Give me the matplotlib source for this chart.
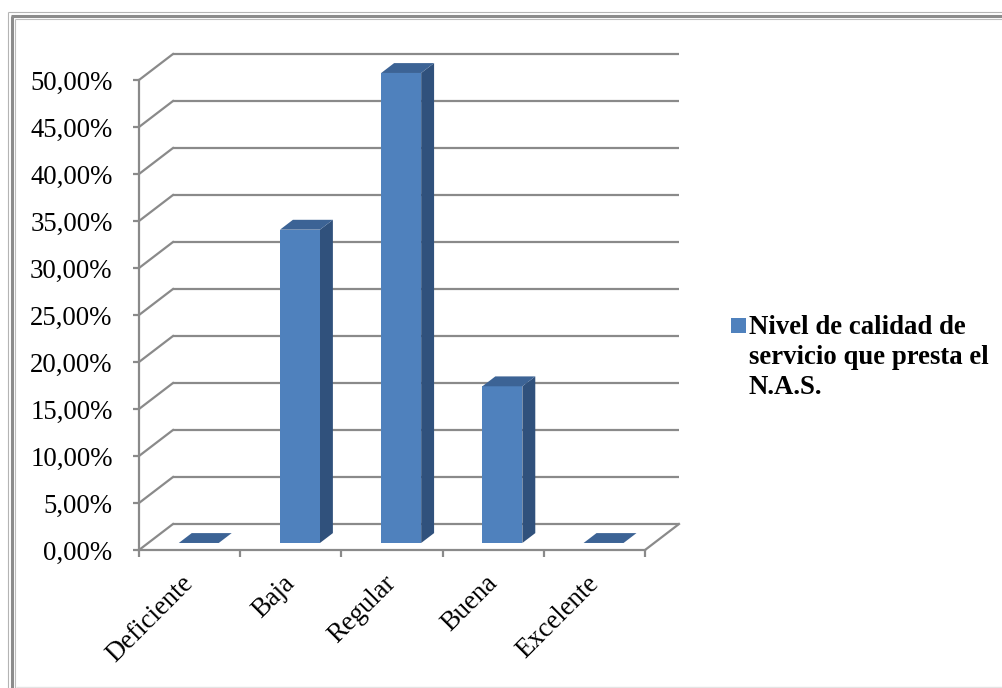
import matplotlib
matplotlib.use("Agg")
import matplotlib.pyplot as plt
from matplotlib.patches import Polygon, Rectangle
from matplotlib.lines import Line2D
from matplotlib.transforms import ScaledTranslation
import numpy as np

# ---------------- data ----------------
categories = ["Deficiente", "Baja", "Regular", "Buena", "Excelente"]
values = [0.0, 33.33, 50.0, 16.67, 0.0]          # percent
series_name = "Nivel de calidad de\nservicio que presta el\nN.A.S."
y_ticks = [0, 5, 10, 15, 20, 25, 30, 35, 40, 45, 50]
y_tick_labels = ["0,00%", "5,00%", "10,00%", "15,00%", "20,00%", "25,00%",
                 "30,00%", "35,00%", "40,00%", "45,00%", "50,00%"]

# ---------------- style ----------------
W, H = 1003, 688
FRONT = "#4F81BD"
SIDE = "#30517C"
TOP = "#3C6395"
GRID = "#8A8A8A"
FONT = "Liberation Serif"
FS = 19.3

fig = plt.figure(figsize=(W / 100, H / 100), dpi=100)
fig.patch.set_facecolor("white")

# front plane of the 3D plot area (pixels): x 139..645, y 80..550
ax = fig.add_axes([139 / W, 1 - 550 / H, (645 - 139) / W, 470 / H])
ax.set_xlim(-0.5, len(categories) - 0.5)
ax.set_ylim(0, 50)
ax.patch.set_visible(False)

# depth vector (34 px right, 26 px up) converted to data units
p0 = ax.transData.transform((0, 0))
dxd, dyd = ax.transData.inverted().transform(p0 + np.array([34.0, 26.0]))
x0, x1 = ax.get_xlim()

# back wall gridlines + left wall diagonals
for yv in y_ticks:
    ax.add_line(Line2D([x0 + dxd, x1 + dxd], [yv + dyd, yv + dyd], color=GRID,
                       lw=1.6, clip_on=False, zorder=1, solid_capstyle="butt"))
    ax.add_line(Line2D([x0, x0 + dxd], [yv, yv + dyd], color=GRID,
                       lw=1.6, clip_on=False, zorder=1))
# floor right edge
ax.add_line(Line2D([x1, x1 + dxd], [0, dyd], color=GRID, lw=1.6,
                   clip_on=False, zorder=1))

# ---------------- bars ----------------
d1, d2 = 0.27, 0.65
BW = 0.395
xs = np.arange(len(categories))
for xi, v in zip(xs, values):
    xl, xr = xi - BW / 2, xi + BW / 2
    if v > 0:
        side = Polygon([(xr + d1 * dxd, d1 * dyd), (xr + d2 * dxd, d2 * dyd),
                        (xr + d2 * dxd, d2 * dyd + v), (xr + d1 * dxd, d1 * dyd + v)],
                       closed=True, facecolor=SIDE, edgecolor="none",
                       clip_on=False, zorder=3)
        ax.add_patch(side)
    top = Polygon([(xl + d1 * dxd, d1 * dyd + v), (xr + d1 * dxd, d1 * dyd + v),
                   (xr + d2 * dxd, d2 * dyd + v), (xl + d2 * dxd, d2 * dyd + v)],
                  closed=True, facecolor=TOP, edgecolor="none",
                  clip_on=False, zorder=4)
    ax.add_patch(top)
ax.bar(xs + d1 * dxd, values, width=BW, bottom=d1 * dyd, color=FRONT,
       edgecolor="none", zorder=3, clip_on=False)

# ---------------- axes styling ----------------
for s in ["top", "right"]:
    ax.spines[s].set_visible(False)
for s in ["left", "bottom"]:
    ax.spines[s].set_color(GRID)
    ax.spines[s].set_linewidth(1.6)
    ax.spines[s].set_zorder(2)

ax.set_yticks(y_ticks)
ax.set_yticklabels(y_tick_labels, fontfamily=FONT, fontsize=FS)
ax.tick_params(axis="y", direction="out", length=4.5, width=1.6, color=GRID,
               pad=14.5)

ax.set_xticks(xs)
ax.set_xticklabels(categories, fontfamily=FONT, fontsize=FS, rotation=45,
                   ha="right", va="top")
ax.set_xticks(np.arange(x0, x1 + 0.01, 1.0), minor=True)
ax.tick_params(axis="x", which="major", length=0, pad=15)
ax.tick_params(axis="x", which="minor", direction="out", length=5.2,
               width=1.6, color=GRID)
for lab in ax.get_xticklabels():
    lab.set_transform(lab.get_transform() +
                      ScaledTranslation(9 / 100, 0, fig.dpi_scale_trans))

# ---------------- legend ----------------
fig.add_artist(Rectangle((731 / W, 1 - 333 / H), 15 / W, 15 / H,
                         transform=fig.transFigure, facecolor=FRONT,
                         edgecolor="none"))
fig.text(749 / W, 1 - 315 / H, series_name, fontfamily=FONT, fontsize=FS,
         fontweight="bold", ha="left", va="top", linespacing=1.25)

# ---------------- outer frame ----------------
def fl(xa, ya, xb, yb, c, lw):
    fig.add_artist(Line2D([xa / W, xb / W], [1 - ya / H, 1 - yb / H],
                          transform=fig.transFigure, color=c, lw=lw,
                          solid_capstyle="butt"))

fl(8, 12, 8, 688, "#B4B4B4", 0.8)
fl(8, 12, 1003, 12, "#B4B4B4", 0.8)
fl(12, 15.5, 12, 688, "#8C8C8C", 2.2)
fl(11, 15.5, 1003, 15.5, "#8C8C8C", 2.2)
fl(15.5, 19, 15.5, 688, "#BDBDBD", 0.8)
fl(15.5, 19, 1003, 19, "#BDBDBD", 0.8)
fl(16, 687, 1003, 687, "#E4E4E4", 1.0)

fig.savefig("out.png", dpi=100, facecolor="white")
